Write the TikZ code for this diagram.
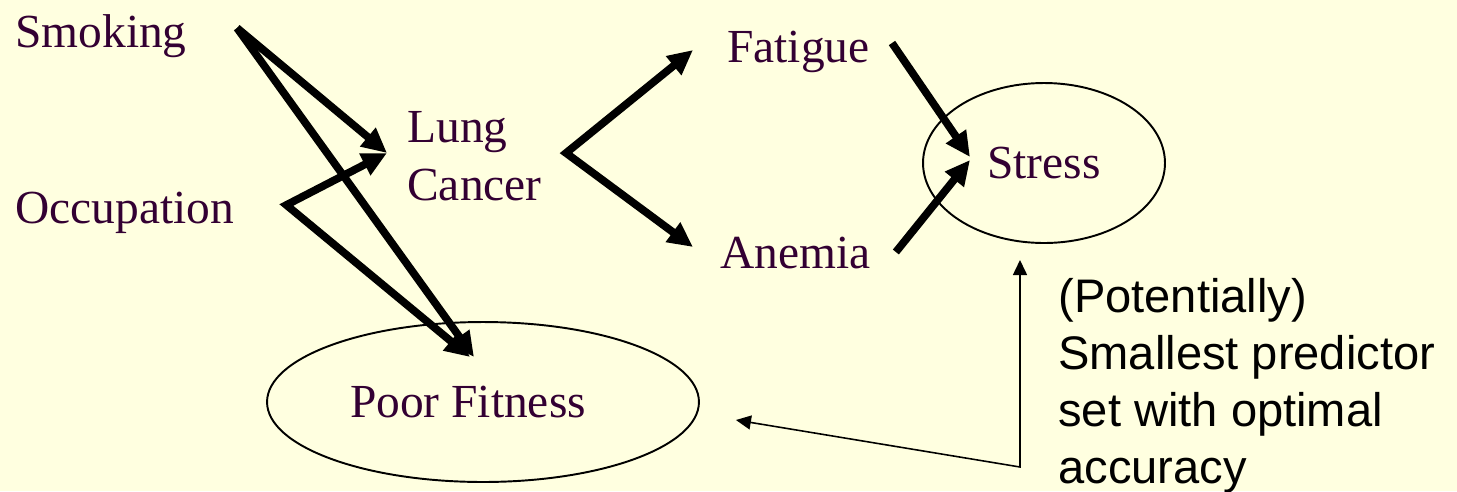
\documentclass[tikz,border=0pt]{standalone}
\usepackage{fontspec}
\setmainfont{Liberation Serif}
\newfontfamily\notefont{Liberation Sans}
\usetikzlibrary{arrows.meta,shapes.geometric}
\definecolor{slidebg}{HTML}{FFFFE0}
\definecolor{vartext}{HTML}{330033}

\begin{document}
\begin{tikzpicture}[
        x=0.02cm, y=-0.02cm,
        every node/.style={inner sep=0pt, font=\fontsize{27}{33}\selectfont, text=vartext},
        var_oval/.style={draw, ellipse, line width=1.1pt},
        cause/.style={line width=4.4pt, -{Triangle[length=0.5cm, width=0.46cm]}},
        fork/.style={line width=4.4pt, {Triangle[length=0.5cm, width=0.46cm]}-{Triangle[length=0.5cm, width=0.46cm]}},
        note_text/.style={font=\notefont\fontsize{26.8}{32.4}\selectfont, text=black, align=left},
        note_line/.style={line width=0.9pt, {Triangle[length=0.3cm, width=0.28cm]}-{Triangle[length=0.3cm, width=0.28cm]}}
    ]
    \useasboundingbox (0,0) rectangle (1457,491);
    \fill[slidebg] (0,0) rectangle (1457,491);

    % variables
    \node[anchor=base west] (smoking) at (15,47) {Smoking};
    \node[anchor=base west] (occupation) at (15,223) {Occupation};
    \node[anchor=west, align=left] (lung) at (407,156) {Lung\\Cancer};
    \node[anchor=base west] (fatigue) at (727,62) {Fatigue};
    \node[anchor=base west] (anemia) at (720,268) {Anemia};
    \node[var_oval, minimum width=4.84cm, minimum height=3.2cm] (stress) at (1044,163) {Stress};
    \node[var_oval, minimum width=8.64cm, minimum height=3.2cm] (poor) at (483,402) {Poor Fitness\kern0.6cm};

    % causal arrows
    \draw[cause] ([shift={(50,-19)}]smoking.base east) -- ([shift={(-20,-3)}]lung.west);
    \draw[cause] ([shift={(50,-19)}]smoking.base east) -- ([shift={(-9,-45)}]poor.center);
    \draw[fork] ([shift={(-20,-3)}]lung.west) -- ([shift={(52,-18)}]occupation.base east) -- ([shift={(-13,-45)}]poor.center);
    \draw[fork] ([shift={(-34,-12)}]fatigue.base west) -- ([shift={(24,-3)}]lung.east) -- ([shift={(-27,-21)}]anemia.base west);
    \draw[cause] ([shift={(22,-19)}]fatigue.base east) -- ([shift={(-74,-6)}]stress.center);
    \draw[cause] ([shift={(25,-16)}]anemia.base east) -- ([shift={(-74,-3)}]stress.center);

    % annotation
    \node[note_text, anchor=north west] (note) at (1058,278) {(Potentially)\\Smallest predictor\\set with optimal\\accuracy};
    \coordinate (note_bend) at (1020,467);
    \coordinate (note_tip) at (1020,260);
    \draw[note_line] ([shift={(36,18)}]poor.east) -- (note_bend) -- (note_tip);
\end{tikzpicture}
\end{document}
